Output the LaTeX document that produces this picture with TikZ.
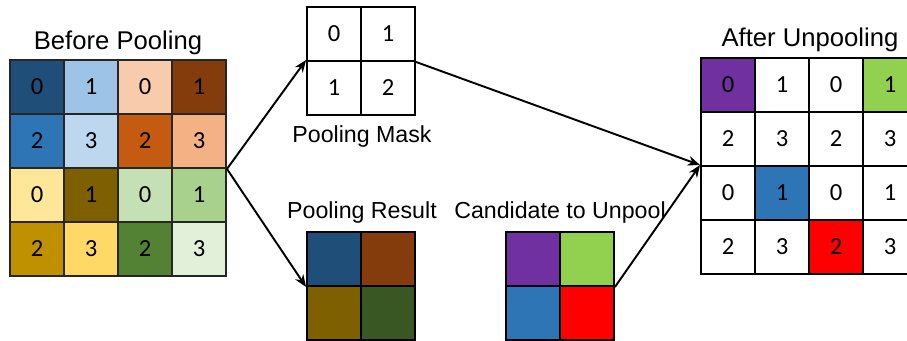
\documentclass[tikz,border=0pt]{standalone}
\usepackage{fontspec}
\setmainfont{Liberation Sans}
\newfontfamily\digitfont{Carlito}
\usetikzlibrary{arrows.meta, positioning}
% colours of the input grid
\definecolor{bdarkblue}{HTML}{1F4E79}
\definecolor{blightblue}{HTML}{9DC3E6}
\definecolor{bpeach}{HTML}{F8CBAD}
\definecolor{bbrown}{HTML}{843C0C}
\definecolor{bblue}{HTML}{2E75B6}
\definecolor{bpaleblue}{HTML}{BDD7EE}
\definecolor{borange}{HTML}{C55A11}
\definecolor{blightorange}{HTML}{F4B183}
\definecolor{bpaleyellow}{HTML}{FFE699}
\definecolor{bolive}{HTML}{7F6000}
\definecolor{bpalegreen}{HTML}{C5E0B4}
\definecolor{blightgreen}{HTML}{A9D18E}
\definecolor{bgold}{HTML}{BF9000}
\definecolor{byellow}{HTML}{FFD966}
\definecolor{bgreen}{HTML}{548235}
\definecolor{bmint}{HTML}{E2F0D9}
\definecolor{rdarkgreen}{HTML}{385723}
% colours of the candidates
\definecolor{cpurple}{HTML}{7030A0}
\definecolor{clime}{HTML}{92D050}
\definecolor{cblue}{HTML}{2E75B6}
\definecolor{cred}{HTML}{FF0000}

\begin{document}
\begin{tikzpicture}[
    x=0.02cm, y=-0.02cm,
    cell/.style={rectangle, draw=black, line width=1.1pt, fill=#1, minimum size=1.08cm, inner sep=0pt, font=\digitfont\fontsize{14}{14}\selectfont},
    cell/.default=white,
    title/.style={font=\fontsize{14.6}{14.6}\selectfont, anchor=base},
    caption/.style={font=\fontsize{13.2}{13.2}\selectfont, anchor=base},
    link/.style={-{Stealth[length=7pt, width=5.5pt]}, line width=1.1pt},
]
\useasboundingbox (0,0) rectangle (907,341);

% Before pooling: 4x4 coloured grid
\foreach \row [count=\r] in {{bdarkblue,blightblue,bpeach,bbrown},{bblue,bpaleblue,borange,blightorange},{bpaleyellow,bolive,bpalegreen,blightgreen},{bgold,byellow,bgreen,bmint}}
  \foreach \col [count=\c] in \row {
    \pgfmathtruncatemacro\v{2*mod(\r+1,2)+mod(\c+1,2)}
    \node[cell=\col, draw=black!85] (b-\r-\c) at ({37+54*(\c-1)}, {87+54*(\r-1)}) {\v};
  }
\node[title] (before) at (118,49.3) {Before Pooling};

% Pooling mask
\node[cell] (m-1-1) at (334,34) {0};
\node[cell] (m-1-2) at (388,34) {1};
\node[cell] (m-2-1) at (334,88) {1};
\node[cell] (m-2-2) at (388,88) {2};
\node[caption] (masklabel) at (362,143) {Pooling Mask};

% Pooling result
\node[cell=bdarkblue] (r-1-1) at (334,259) {};
\node[cell=bbrown] (r-1-2) at (388,259) {};
\node[cell=bolive] (r-2-1) at (334,313) {};
\node[cell=rdarkgreen] (r-2-2) at (388,313) {};
\node[caption] (resultlabel) at (362,218) {Pooling Result};

% Candidate to unpool
\node[cell=cpurple] (c-1-1) at (533,259) {};
\node[cell=clime] (c-1-2) at (587,259) {};
\node[cell=cblue] (c-2-1) at (533,313) {};
\node[cell=cred] (c-2-2) at (587,313) {};
\node[caption] (candlabel) at (560,218) {Candidate to Unpool};

% After unpooling
\foreach \row [count=\r] in {{cpurple,white,white,clime},{white,white,white,white},{white,cblue,white,white},{white,white,cred,white}}
  \foreach \col [count=\c] in \row {
    \pgfmathtruncatemacro\v{2*mod(\r+1,2)+mod(\c+1,2)}
    \node[cell=\col] (a-\r-\c) at ({728+54*(\c-1)}, {85+54*(\r-1)}) {\v};
  }
\node[title] (after) at (810,46.7) {After Unpooling};

% arrows
\draw[link] (b-2-4.south east) -- (m-2-1.north west);
\draw[link] (b-2-4.south east) -- (r-1-1.south west);
\draw[link] (m-1-2.south east) -- (a-3-1.north west);
\draw[link] (c-1-2.south east) -- (a-3-1.north west);

\end{tikzpicture}
\end{document}
